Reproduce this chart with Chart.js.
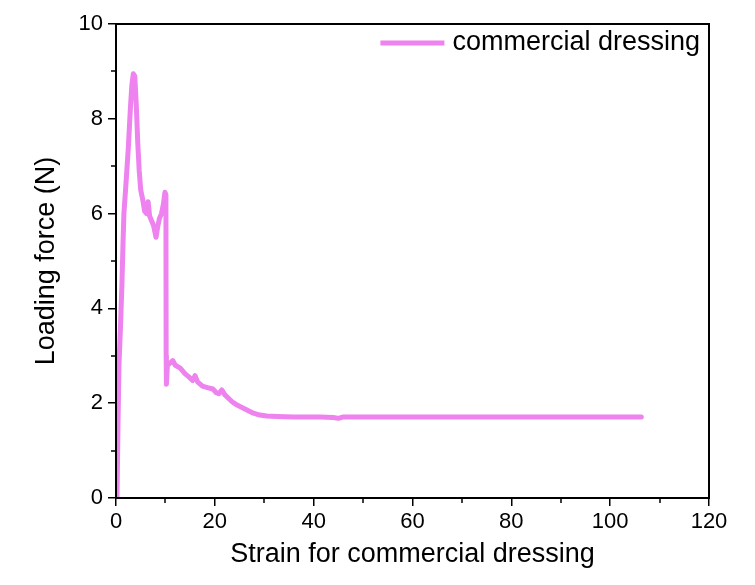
<!DOCTYPE html>
<html>
<head>
<meta charset="utf-8">
<script src="https://cdn.jsdelivr.net/npm/chart.js@4"></script>
<style>
  html, body { margin: 0; padding: 0; background: #ffffff; }
  #wrap { width: 755px; height: 585px; }
</style>
</head>
<body>
<div id="wrap"><canvas id="c" width="755" height="585"></canvas></div>
<script>
const seriesLabel = "commercial dressing";
const xTitle = "Strain for commercial dressing";
const yTitle = "Loading force (N)";

const strain = [0.2, 0.4, 0.6, 0.9, 1.2, 1.4, 1.6, 2.0, 2.5, 2.9, 3.2, 3.5, 3.8, 4.1, 4.4, 4.7, 5.0, 5.4, 5.8, 6.2, 6.5, 6.8, 7.2, 7.6, 8.1, 8.4, 8.8, 9.2, 9.6, 9.9, 10.1, 10.15, 10.2, 10.4, 11.0, 11.5, 12.0, 13.0, 14.0, 14.8, 15.5, 16.0, 16.5, 17.5, 18.5, 19.6, 20.3, 20.8, 21.4, 22.0, 22.6, 23.5, 24.5, 25.7, 26.8, 27.8, 29.1, 30.5, 32.6, 36, 41.3, 44, 45, 46, 50, 60, 70, 80, 90, 100, 106.3];
const force  = [0, 1.5, 2.8, 3.6, 4.5, 5.3, 6.0, 6.6, 7.4, 8.2, 8.7, 8.95, 8.9, 8.3, 7.5, 6.9, 6.5, 6.3, 6.05, 6.0, 6.25, 5.95, 5.85, 5.75, 5.5, 5.7, 5.9, 6.0, 6.2, 6.45, 6.4, 3.0, 2.4, 2.8, 2.85, 2.9, 2.8, 2.74, 2.62, 2.55, 2.48, 2.58, 2.45, 2.36, 2.33, 2.3, 2.22, 2.2, 2.28, 2.18, 2.12, 2.03, 1.96, 1.9, 1.84, 1.79, 1.75, 1.73, 1.72, 1.71, 1.71, 1.70, 1.68, 1.71, 1.71, 1.71, 1.71, 1.71, 1.71, 1.71, 1.71];

const xMin = 0, xMax = 120, xStep = 20;
const yMin = 0, yMax = 10, yStep = 2;

const points = strain.map((s, i) => ({ x: s, y: force[i] }));

const FONT = "'Liberation Sans', Arial, sans-serif";
const LINE_COLOR = '#EE82EE';

const framePlugin = {
  id: 'frame',
  afterDraw(chart) {
    const { ctx, chartArea: a, scales } = chart;
    ctx.save();
    ctx.strokeStyle = '#000';
    ctx.lineWidth = 2;
    ctx.strokeRect(a.left, a.top, a.right - a.left, a.bottom - a.top);
    // minor ticks
    ctx.lineWidth = 1.5;
    ctx.beginPath();
    const xs = scales.x, ys = scales.y;
    for (let v = xMin + xStep / 2; v < xMax; v += xStep) {
      const px = Math.round(xs.getPixelForValue(v));
      ctx.moveTo(px, a.bottom);
      ctx.lineTo(px, a.bottom + 5);
    }
    for (let v = yMin + yStep / 2; v < yMax; v += yStep) {
      const py = Math.round(ys.getPixelForValue(v));
      ctx.moveTo(a.left, py);
      ctx.lineTo(a.left - 5, py);
    }
    ctx.stroke();
    // legend
    const ds = chart.data.datasets[0];
    ctx.font = '27px ' + FONT;
    ctx.textBaseline = 'middle';
    const tw = ctx.measureText(ds.label).width;
    const tx = a.right - 9 - tw;
    const ty = a.top + 19;
    ctx.fillStyle = '#000';
    ctx.fillText(ds.label, tx, ty);
    ctx.strokeStyle = ds.borderColor;
    ctx.lineWidth = 5;
    ctx.beginPath();
    ctx.moveTo(tx - 72, ty);
    ctx.lineTo(tx - 8, ty);
    ctx.stroke();
    ctx.restore();
  }
};

new Chart(document.getElementById('c'), {
  type: 'scatter',
  data: {
    datasets: [{
      label: seriesLabel,
      data: points,
      showLine: true,
      borderColor: LINE_COLOR,
      backgroundColor: LINE_COLOR,
      borderWidth: 5,
      pointRadius: 0,
      tension: 0,
      borderCapStyle: 'round',
      borderJoinStyle: 'round'
    }]
  },
  options: {
    responsive: false,
    animation: false,
    layout: { padding: { top: 24, right: 46, left: 0, bottom: 0 } },
    plugins: { legend: { display: false }, tooltip: { enabled: false } },
    scales: {
      x: {
        type: 'linear',
        min: xMin, max: xMax,
        afterFit(s) { s.height = 87; },
        ticks: { stepSize: xStep, color: '#000', padding: 3, font: { family: FONT, size: 22 }, maxRotation: 0 },
        grid: { drawOnChartArea: false, drawTicks: true, tickLength: 8, color: '#000', lineWidth: 1.5 },
        border: { display: true, color: '#000', width: 2 },
        title: { display: true, text: xTitle, color: '#000', font: { family: FONT, size: 27 }, padding: { top: 0, bottom: 14 } }
      },
      y: {
        type: 'linear',
        min: yMin, max: yMax,
        afterFit(s) { s.width = 116; },
        ticks: { stepSize: yStep, color: '#000', padding: 5, font: { family: FONT, size: 22 } },
        grid: { drawOnChartArea: false, drawTicks: true, tickLength: 8, color: '#000', lineWidth: 1.5 },
        border: { display: true, color: '#000', width: 2 },
        title: { display: true, text: yTitle, color: '#000', font: { family: FONT, size: 27 }, padding: { top: 30, bottom: 0 } }
      }
    }
  },
  plugins: [framePlugin]
});
</script>
</body>
</html>
